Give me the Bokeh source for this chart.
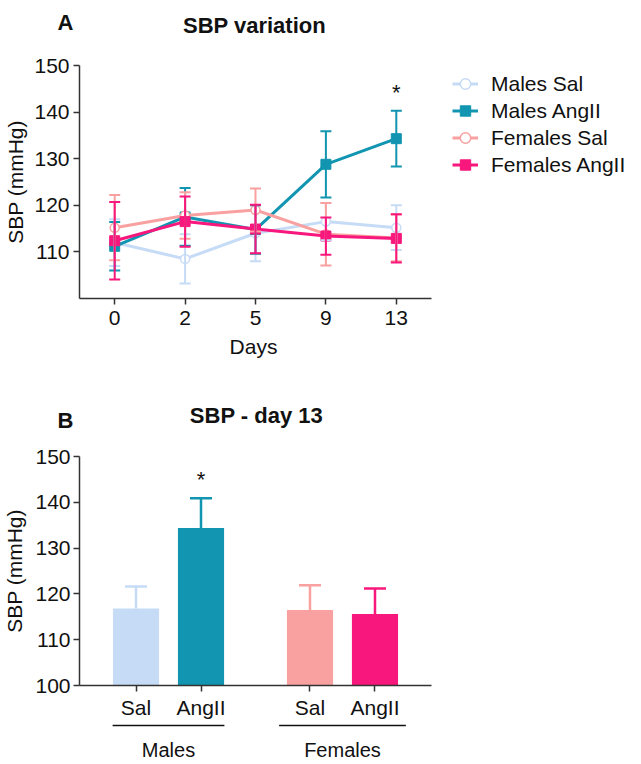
from bokeh.plotting import figure
from bokeh.models import (FactorRange, Range1d, Whisker, TeeHead, ColumnDataSource,
                          Legend, LegendItem, FixedTicker)
from bokeh.layouts import column, row
from bokeh.embed import file_html
from bokeh.resources import INLINE
from bokeh.core.properties import value

FONT = "Liberation Sans"

# ---------------- data ----------------
days = ["0", "2", "5", "9", "13"]
series_names = ["Males Sal", "Males AngII", "Females Sal", "Females AngII"]
males_sal = [112.0, 108.5, 114.0, 116.5, 115.2]
males_sal_sem = [5.0, 5.3, 6.0, 4.0, 4.8]
males_ang = [111.2, 117.5, 114.8, 128.8, 134.3]
males_ang_sem = [5.2, 6.2, 5.2, 7.1, 6.0]
fem_sal = [115.2, 117.8, 119.0, 113.8, 113.0]
fem_sal_sem = [7.0, 5.0, 4.6, 6.7, 5.0]
fem_ang = [112.4, 116.5, 114.9, 113.4, 112.9]
fem_ang_sem = [8.3, 5.4, 5.2, 4.0, 5.2]
sig_days = ["13"]

groups = ["Males", "Females"]
treatments = ["Sal", "AngII"]
day13_mean = [116.8, 134.4, 116.5, 115.6]
day13_sem = [4.8, 6.5, 5.4, 5.6]
sig_bars = [("Males", "AngII")]

colors = ["#c6dbf5", "#1195b0", "#f9a0a0", "#f8177c"]
markers = ["circle", "square", "circle", "square"]

AX = "#333333"
TXT = "#111111"
W = 641
LB = 79          # left border of the plots
RB = W - 431     # right border of panel B


def style_axes(p):
    for ax in p.axis:
        ax.axis_line_color = AX
        ax.axis_line_width = 1.5
        ax.major_tick_line_color = AX
        ax.major_tick_line_width = 1.5
        ax.major_tick_out = 6
        ax.major_tick_in = 0
        ax.minor_tick_line_color = None
        ax.major_label_text_font = FONT
        ax.major_label_text_font_size = "21px"
        ax.major_label_text_color = TXT
        ax.axis_label_text_font = FONT
        ax.axis_label_text_font_size = "21px"
        ax.axis_label_text_font_style = "normal"
        ax.axis_label_text_color = TXT
    p.grid.visible = False
    p.outline_line_color = None


def text_strip(h):
    hp = figure(width=W, height=h, x_range=Range1d(0, W), y_range=Range1d(h, 0),
                output_backend="svg", toolbar_location=None, title=None,
                x_axis_location=None, y_axis_location=None,
                min_border_left=0, min_border_right=0, min_border_top=0,
                min_border_bottom=0)
    hp.grid.visible = False
    hp.outline_line_color = None
    return hp


def header(h, letter, letter_base, title, title_center, title_base):
    hp = text_strip(h)
    hp.text(x=[57], y=[letter_base], text=[letter], text_align="left",
            text_baseline="alphabetic", text_font=value(FONT), text_font_size="22px",
            text_font_style="bold", text_color=TXT)
    hp.text(x=[title_center], y=[title_base], text=[title], text_align="center",
            text_baseline="alphabetic", text_font=value(FONT), text_font_size="22px",
            text_font_style="bold", text_color=TXT)
    return hp


# ---------------- panel A ----------------
hA = header(50, "A", 22, "SBP variation", 254, 25)

x_idx = list(range(len(days)))
pA = figure(width=W, height=284, x_range=Range1d(-0.5, 7.483),
            y_range=Range1d(100, 150), output_backend="svg", toolbar_location=None,
            title=None, min_border_left=LB, min_border_right=0, min_border_top=15,
            min_border_bottom=36)
pA.yaxis.axis_label = "SBP (mmHg)"
pA.xaxis.ticker = FixedTicker(ticks=x_idx)
pA.xaxis.major_label_overrides = {i: d for i, d in zip(x_idx, days)}
pA.xaxis.bounds = (-0.5, len(days) - 0.5)
pA.yaxis.ticker = FixedTicker(ticks=[110, 120, 130, 140, 150])
style_axes(pA)
pA.xaxis.major_label_standoff = 6
pA.yaxis.major_label_standoff = 4
pA.yaxis.axis_label_standoff = 4

all_vals = [males_sal, males_ang, fem_sal, fem_ang]
all_sem = [males_sal_sem, males_ang_sem, fem_sal_sem, fem_ang_sem]
items = []
for name, vals, sem, c, m in zip(series_names, all_vals, all_sem, colors, markers):
    src = ColumnDataSource(dict(x=x_idx, y=vals,
                                upper=[v + s for v, s in zip(vals, sem)],
                                lower=[v - s for v, s in zip(vals, sem)]))
    w = Whisker(source=src, base="x", upper="upper", lower="lower",
                line_color=c, line_width=2, level="glyph",
                upper_head=TeeHead(size=11, line_color=c, line_width=2),
                lower_head=TeeHead(size=11, line_color=c, line_width=2))
    pA.add_layout(w)
    lr = pA.line("x", "y", source=src, line_color=c, line_width=3)
    if m == "circle":
        sr = pA.scatter("x", "y", source=src, marker="circle", size=9,
                        fill_color="white", line_color=c, line_width=1.5)
    else:
        sr = pA.scatter("x", "y", source=src, marker="square", size=10,
                        fill_color=c, line_color=c)
    items.append(LegendItem(label=name, renderers=[lr, sr]))

sig_x = [days.index(d) for d in sig_days]
sig_y = [males_ang[i] + males_ang_sem[i] + 4 for i in sig_x]
pA.text(x=sig_x, y=sig_y, text=["*"] * len(sig_x), text_align="center",
        text_baseline="middle", text_font=value(FONT), text_font_size="22px",
        text_color=TXT)

leg = Legend(items=items, location=(373, 120), orientation="vertical",
             glyph_width=26, glyph_height=27, label_height=27, spacing=0,
             padding=0, margin=0, label_standoff=13,
             label_text_font=FONT, label_text_font_size="21px",
             label_text_color=TXT,
             border_line_alpha=0, background_fill_alpha=0)
pA.add_layout(leg)

# x-axis title of panel A, centred under the day axis
pD = text_strip(36)
pD.text(x=[253], y=[12], text=["Days"], text_align="center",
        text_baseline="alphabetic", text_font=value(FONT), text_font_size="21px",
        text_color=TXT)

# ---------------- panel B ----------------
hB = header(70, "B", 50, "SBP - day 13", 256, 45)

factors = [(g, t) for g in groups for t in treatments]
xr = FactorRange(*factors, factor_padding=0, group_padding=0.677,
                 range_padding=0.158, range_padding_units="percent")
pB = figure(width=W, height=281, x_range=xr, y_range=Range1d(100, 150),
            output_backend="svg", toolbar_location=None, title=None,
            min_border_left=LB, min_border_right=RB, min_border_top=16,
            min_border_bottom=34)
pB.yaxis.axis_label = "SBP (mmHg)"
pB.yaxis.ticker = FixedTicker(ticks=[100, 110, 120, 130, 140, 150])
style_axes(pB)
pB.xaxis.major_label_standoff = 4
pB.yaxis.major_label_standoff = 3
pB.yaxis.axis_label_standoff = 6
pB.xaxis.group_text_font_size = "0px"
pB.xaxis.group_text_alpha = 0
pB.xaxis.separator_line_alpha = 0

pB.vbar(x=factors, top=day13_mean, width=0.71, fill_color=colors, line_color=None)
for f, mval, s, c in zip(factors, day13_mean, day13_sem, colors):
    src = ColumnDataSource(dict(x=[f], upper=[mval + s], lower=[mval]))
    pB.add_layout(Whisker(source=src, base="x", upper="upper", lower="lower",
                          line_color=c, line_width=2.5, level="glyph",
                          upper_head=TeeHead(size=22, line_color=c, line_width=2.5),
                          lower_head=None))

sig_by = [day13_mean[factors.index(f)] + day13_sem[factors.index(f)] + 4 for f in sig_bars]
pB.text(x=sig_bars, y=sig_by, text=["*"] * len(sig_bars), text_align="center",
        text_baseline="middle", text_font=value(FONT), text_font_size="22px",
        text_color=TXT)

# ---------------- group labels under panel B ----------------
pC = figure(width=W, height=43, x_range=xr, y_range=Range1d(43, 0),
            output_backend="svg", toolbar_location=None, title=None,
            x_axis_location=None, y_axis_location=None,
            min_border_left=LB, min_border_right=RB, min_border_top=0,
            min_border_bottom=0)
pC.grid.visible = False
pC.outline_line_color = None
pC.rect(x=groups, y=[4] * len(groups), width=[1.72, 1.95], height=1.5,
        height_units="screen", fill_color=TXT, line_color=None)
pC.text(x=groups, y=[28] * len(groups), text=groups, text_align="center",
        text_baseline="alphabetic", text_font=value(FONT), text_font_size="20px",
        text_color=TXT)

layout = column(row(hA), row(pA), row(pD), row(hB), row(pB), row(pC), spacing=0)
open("out.html", "w").write(file_html(layout, INLINE))
